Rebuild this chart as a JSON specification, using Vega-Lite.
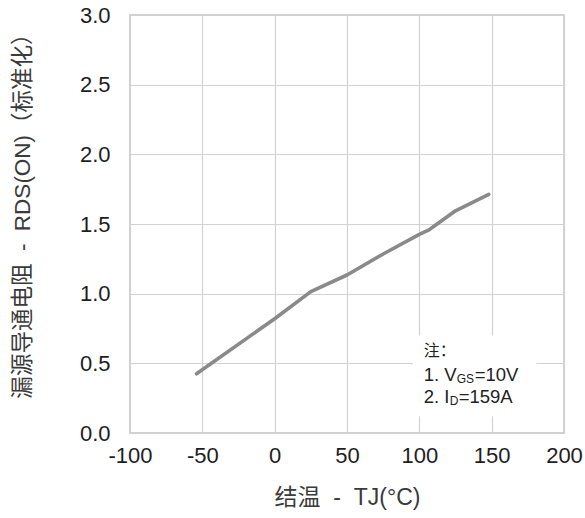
{
  "$schema": "https://vega.github.io/schema/vega-lite/v6.json",
  "width": 434,
  "height": 418,
  "autosize": {"type": "none"},
  "padding": {"left": 130, "top": 15, "right": 21, "bottom": 85},
  "background": "white",
  "config": {
    "view": {"stroke": "#c4c4c4", "strokeWidth": 1.5},
    "font": "Liberation Sans, Noto Sans CJK SC",
    "axis": {
      "grid": true,
      "gridColor": "#d2d2d2",
      "gridWidth": 1.2,
      "ticks": false,
      "domain": false,
      "labelFont": "Liberation Sans",
      "labelFontSize": 22,
      "labelColor": "#1e1e1e",
      "labelFlush": false,
      "labelOverlap": false,
      "titleFont": "Liberation Sans, Noto Sans CJK SC",
      "titleFontSize": 22.5,
      "titleFontWeight": "normal",
      "titleColor": "#3a3a3a"
    }
  },
  "layer": [
    {
      "data": {
        "values": [
          {"t": -54, "r": 0.425},
          {"t": 0, "r": 0.82},
          {"t": 25, "r": 1.015},
          {"t": 50, "r": 1.134},
          {"t": 75, "r": 1.285},
          {"t": 100, "r": 1.426},
          {"t": 107, "r": 1.46},
          {"t": 125, "r": 1.595},
          {"t": 148, "r": 1.713}
        ]
      },
      "mark": {"type": "line", "color": "#8a8a8a", "strokeWidth": 3.6, "strokeCap": "round", "strokeJoin": "round"},
      "encoding": {
        "x": {
          "field": "t",
          "type": "quantitative",
          "scale": {"domain": [-100, 200], "nice": false, "zero": false},
          "axis": {
            "values": [-100, -50, 0, 50, 100, 150, 200],
            "labelPadding": 12,
            "labelExpr": "replace(datum.label, '−', '-')",
            "title": "结温\u00a0\u00a0-\u00a0\u00a0TJ(°C)",
            "titleFontSize": 23,
            "titleY": 64,
            "titleBaseline": "middle"
          }
        },
        "y": {
          "field": "r",
          "type": "quantitative",
          "scale": {"domain": [0, 3], "nice": false},
          "axis": {
            "values": [0, 0.5, 1, 1.5, 2, 2.5, 3],
            "format": ".1f",
            "labelPadding": 20,
            "title": "漏源导通电阻\u00a0\u00a0-\u00a0 RDS(ON)（标准化）",
            "titleAngle": 270,
            "titleAlign": "center",
            "titleBaseline": "middle",
            "titleX": -108,
            "titleY": 195
          }
        }
      }
    },
    {
      "data": {"values": [{}]},
      "mark": {"type": "rect", "fill": "white", "stroke": null},
      "encoding": {
        "x": {"datum": 95.5, "type": "quantitative"},
        "x2": {"datum": 181},
        "y": {"datum": 0.7, "type": "quantitative"},
        "y2": {"datum": 0.12}
      }
    },
    {
      "data": {"values": [{}]},
      "mark": {"type": "text", "text": "注：", "align": "left", "baseline": "middle", "font": "Noto Sans CJK SC", "fontSize": 16, "color": "#222222"},
      "encoding": {"x": {"datum": 103, "type": "quantitative"}, "y": {"datum": 0.592, "type": "quantitative"}}
    },
    {
      "data": {"values": [{}]},
      "mark": {"type": "text", "text": "1. V", "align": "left", "baseline": "middle", "font": "Liberation Sans", "fontSize": 18.5, "color": "#222222"},
      "encoding": {"x": {"datum": 103, "type": "quantitative"}, "y": {"datum": 0.413, "type": "quantitative"}}
    },
    {
      "data": {"values": [{}]},
      "mark": {"type": "text", "text": "GS", "align": "left", "baseline": "middle", "dx": 33, "dy": 4, "font": "Liberation Sans", "fontSize": 12, "color": "#222222"},
      "encoding": {"x": {"datum": 103, "type": "quantitative"}, "y": {"datum": 0.413, "type": "quantitative"}}
    },
    {
      "data": {"values": [{}]},
      "mark": {"type": "text", "text": "=10V", "align": "left", "baseline": "middle", "dx": 51, "font": "Liberation Sans", "fontSize": 18.5, "color": "#222222"},
      "encoding": {"x": {"datum": 103, "type": "quantitative"}, "y": {"datum": 0.413, "type": "quantitative"}}
    },
    {
      "data": {"values": [{}]},
      "mark": {"type": "text", "text": "2. I", "align": "left", "baseline": "middle", "font": "Liberation Sans", "fontSize": 18.5, "color": "#222222"},
      "encoding": {"x": {"datum": 103, "type": "quantitative"}, "y": {"datum": 0.255, "type": "quantitative"}}
    },
    {
      "data": {"values": [{}]},
      "mark": {"type": "text", "text": "D", "align": "left", "baseline": "middle", "dx": 26, "dy": 4, "font": "Liberation Sans", "fontSize": 12, "color": "#222222"},
      "encoding": {"x": {"datum": 103, "type": "quantitative"}, "y": {"datum": 0.255, "type": "quantitative"}}
    },
    {
      "data": {"values": [{}]},
      "mark": {"type": "text", "text": "=159A", "align": "left", "baseline": "middle", "dx": 35, "font": "Liberation Sans", "fontSize": 18.5, "color": "#222222"},
      "encoding": {"x": {"datum": 103, "type": "quantitative"}, "y": {"datum": 0.255, "type": "quantitative"}}
    }
  ]
}
